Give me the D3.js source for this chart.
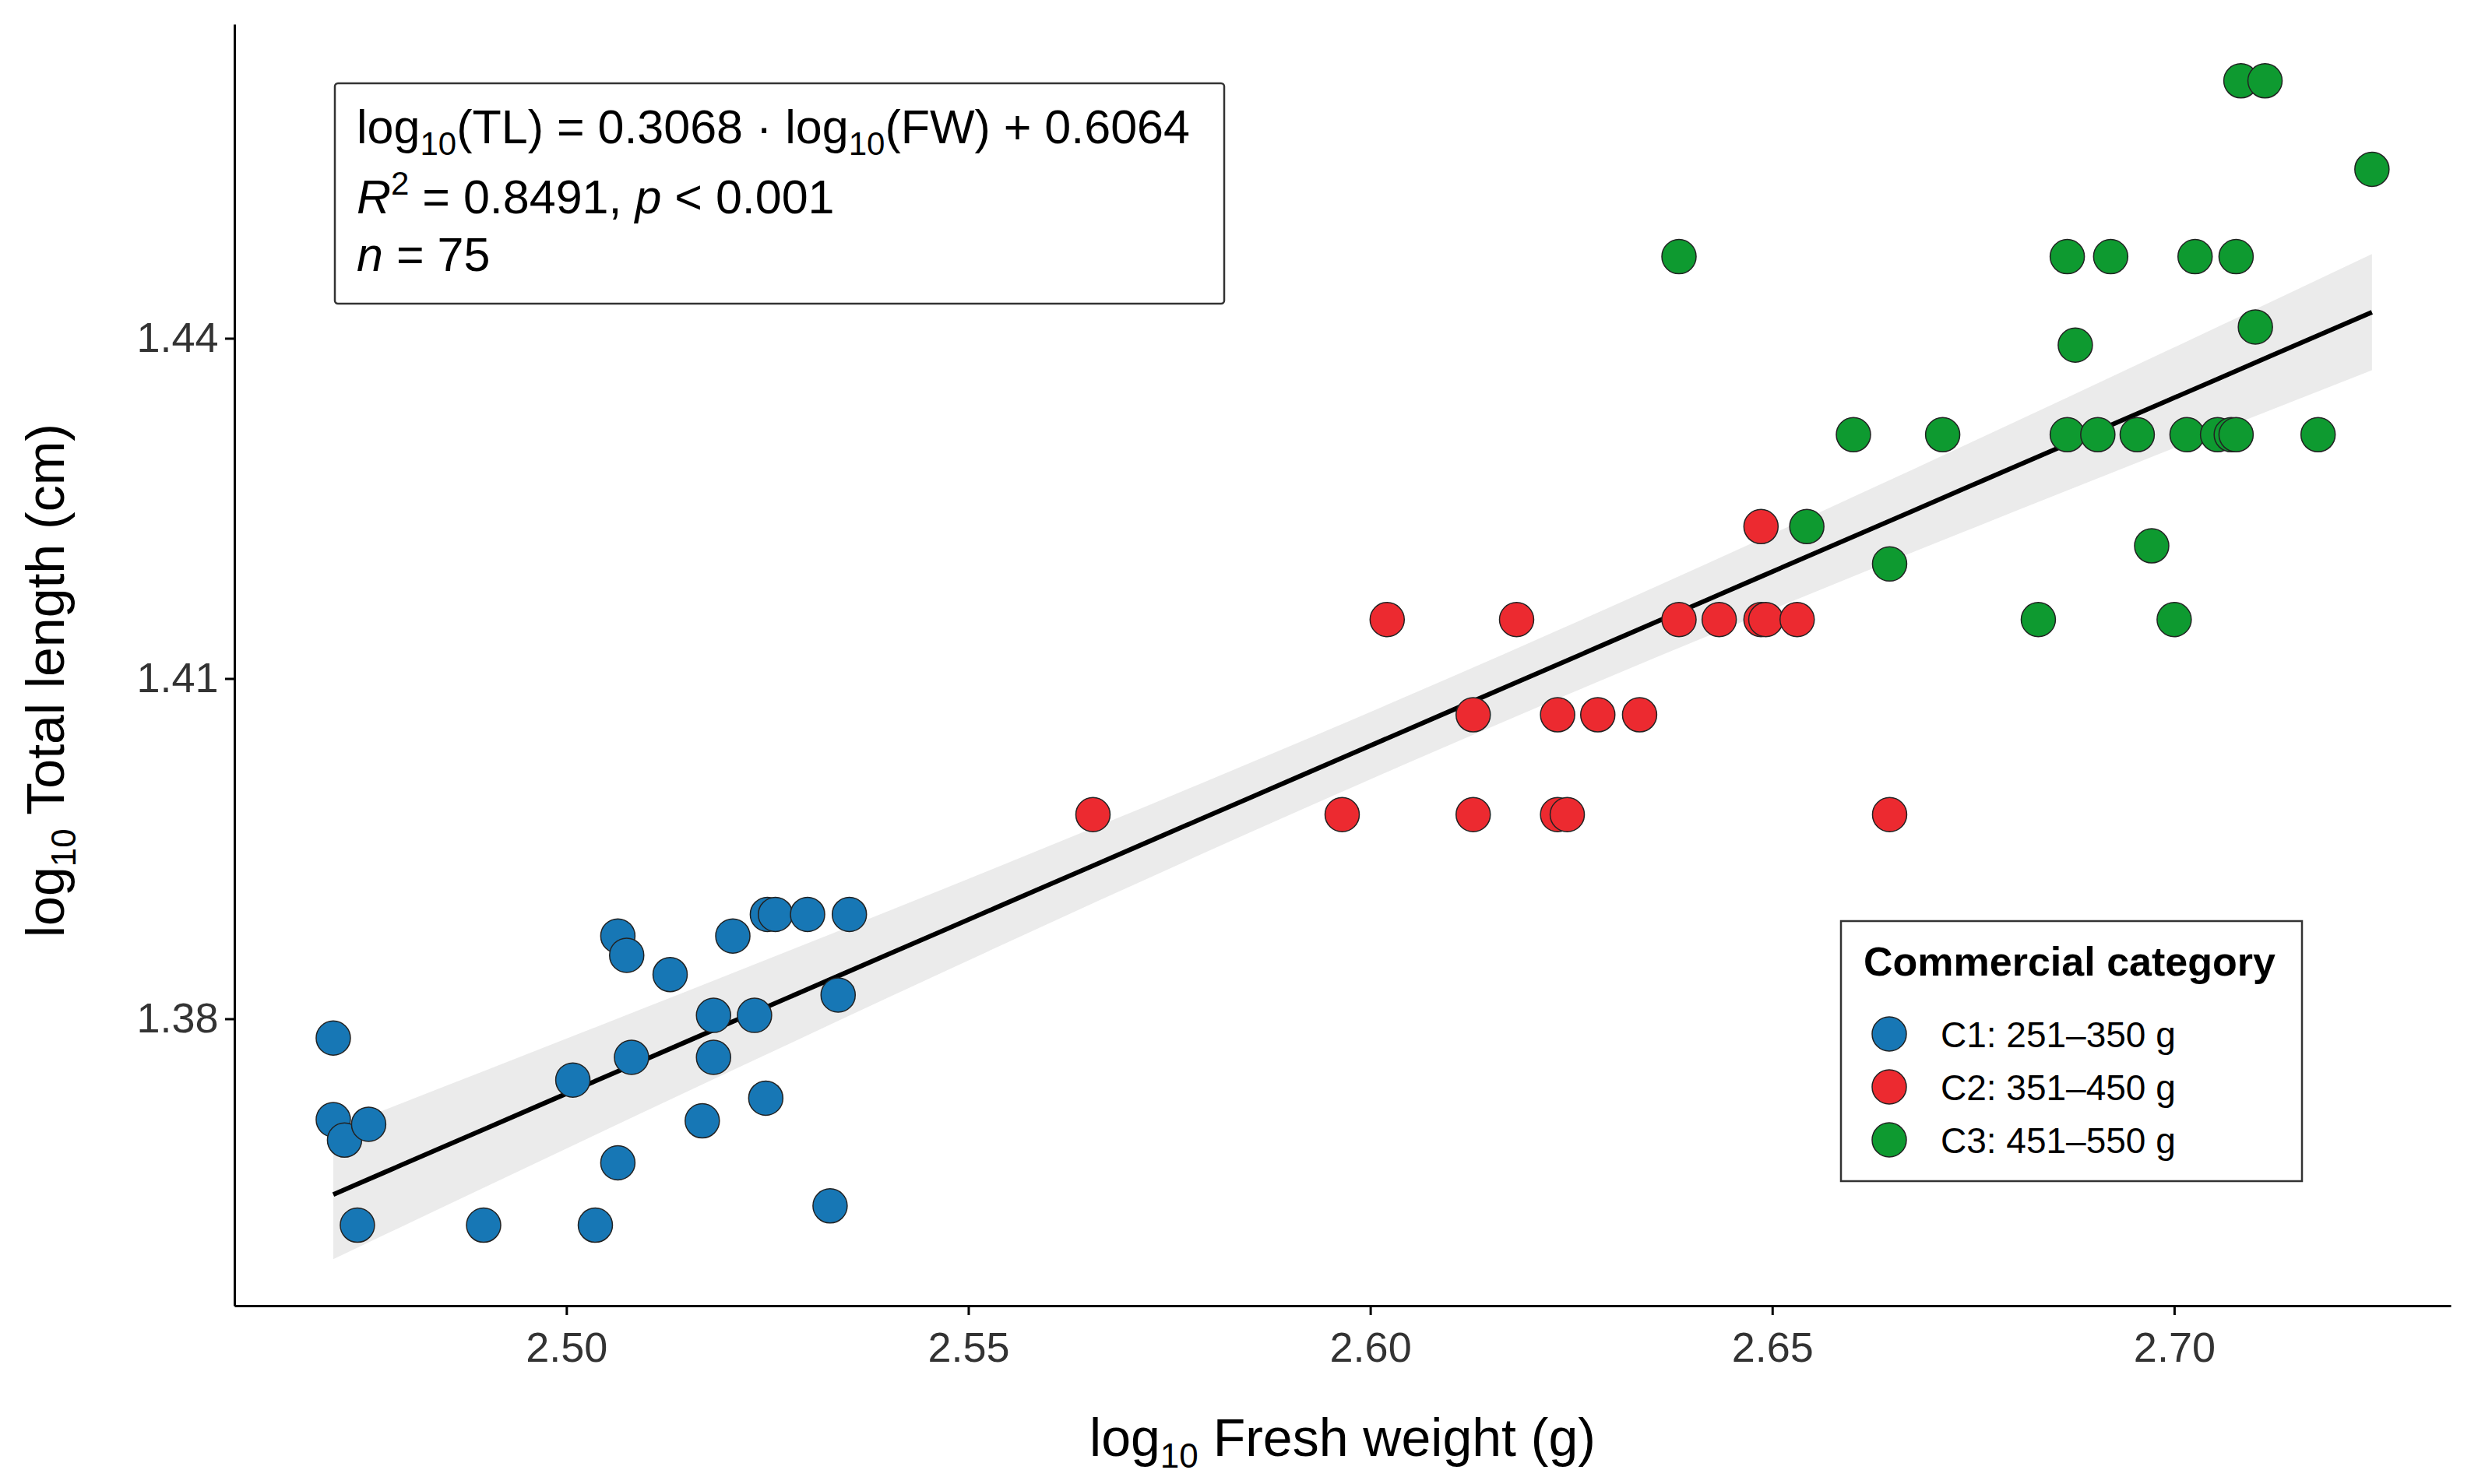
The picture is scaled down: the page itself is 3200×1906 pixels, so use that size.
<!DOCTYPE html>
<html><head><meta charset="utf-8">
<script src="https://cdn.jsdelivr.net/npm/d3@7"></script>
<style>body{margin:0;background:#fff}svg{display:block;font-family:"Liberation Sans",Arial,sans-serif}</style>
</head><body><svg id="chart" width="3200" height="1906"></svg>
<script>
(function(){
  "use strict";

  const categories = ["C1: 251–350 g", "C2: 351–450 g", "C3: 451–550 g"];
  const colors = ["#1777b5", "#ec2a30", "#0e9a30"];
  const xTicks = [2.50, 2.55, 2.60, 2.65, 2.70];
  const yTicks = [1.38, 1.41, 1.44];

  const c1x = [2.471,2.471,2.4724,2.4754,2.474,2.4897,2.5008,2.5036,2.5064,2.5064,2.5075,2.5081,2.5129,2.5169,2.5183,2.5183,2.5207,2.5234,2.5248,2.5250,2.5260,2.5300,2.5328,2.5338,2.5352];
  const c1y = [1.3783,1.3711,1.3693,1.3707,1.3618,1.3618,1.3746,1.3618,1.3673,1.3873,1.3856,1.3766,1.3839,1.3710,1.3803,1.3766,1.3873,1.3803,1.3730,1.3892,1.3892,1.3892,1.3635,1.3821,1.3892];
  const c2x = [2.5655,2.5965,2.6021,2.6128,2.6128,2.6182,2.6233,2.6233,2.6245,2.6283,2.6335,2.6384,2.6434,2.6486,2.6486,2.6492,2.6531,2.6646];
  const c2y = [1.3980,1.3980,1.4152,1.4068,1.3980,1.4152,1.4068,1.3980,1.3980,1.4068,1.4068,1.4152,1.4152,1.4234,1.4152,1.4152,1.4152,1.3980];
  const c3x = [2.6384,2.6543,2.6601,2.6646,2.6712,2.6831,2.6867,2.6867,2.6877,2.6905,2.6921,2.6954,2.6972,2.7000,2.7016,2.7026,2.7054,2.7071,2.7077,2.7077,2.7083,2.7101,2.7113,2.7179,2.7246];
  const c3y = [1.4472,1.4234,1.4315,1.4201,1.4315,1.4152,1.4472,1.4315,1.4394,1.4315,1.4472,1.4315,1.4217,1.4152,1.4315,1.4472,1.4315,1.4315,1.4472,1.4315,1.4627,1.4410,1.4627,1.4315,1.4549];

  const slope = 0.3068, intercept = 0.6064, r2 = "0.8491", nTotal = 75;

  const svg = d3.select("#chart");
  const m = {l: 301, r: 3147, t: 31, b: 1677};
  const x = d3.scaleLinear().domain([2.4587, 2.7344]).range([m.l, m.r]);
  const y = d3.scaleLinear().domain([1.3547, 1.4677]).range([m.b, m.t]);

  const pts = [];
  [[c1x,c1y],[c2x,c2y],[c3x,c3y]].forEach(function(s, i){
    s[0].forEach(function(v, j){ pts.push({x: v, y: s[1][j], g: i}); });
  });

  // confidence band from the points themselves
  const n = pts.length;
  const xm = d3.mean(pts, d => d.x);
  const sxx = d3.sum(pts, d => (d.x - xm) ** 2);
  const sres = Math.sqrt(d3.sum(pts, d => (d.y - (slope * d.x + intercept)) ** 2) / (n - 2));
  const x0 = d3.min(pts, d => d.x), x1 = d3.max(pts, d => d.x);
  const grid = d3.range(0, 41).map(k => x0 + (x1 - x0) * k / 40);
  const band = grid.map(function(v){
    const f = slope * v + intercept;
    const h = 2.3 * sres * Math.sqrt(1 / n + (v - xm) ** 2 / sxx);
    return {x: v, lo: f - h, hi: f + h, f: f};
  });

  svg.append("path").datum(band).attr("fill", "#ebebeb")
    .attr("d", d3.area().x(d => x(d.x)).y0(d => y(d.lo)).y1(d => y(d.hi)));
  svg.append("path").datum(band).attr("fill", "none").attr("stroke", "#000").attr("stroke-width", 6)
    .attr("d", d3.line().x(d => x(d.x)).y(d => y(d.f)));

  svg.append("g").selectAll("circle").data(pts).join("circle")
    .attr("cx", d => x(d.x)).attr("cy", d => y(d.y)).attr("r", 22)
    .attr("fill", d => colors[d.g]).attr("stroke", "#222").attr("stroke-width", 1.5);

  // axes
  const xa = svg.append("g").attr("transform", "translate(0," + m.b + ")")
    .call(d3.axisBottom(x).tickValues(xTicks).tickFormat(d3.format(".2f")).tickSize(12).tickSizeOuter(0));
  const ya = svg.append("g").attr("transform", "translate(" + m.l + ",0)")
    .call(d3.axisLeft(y).tickValues(yTicks).tickFormat(d3.format(".2f")).tickSize(12).tickSizeOuter(0));
  [xa, ya].forEach(function(a){
    a.select(".domain").attr("stroke-width", 3);
    a.selectAll(".tick line").attr("stroke-width", 3);
    a.selectAll("text").attr("font-size", 54).attr("fill", "#333").attr("font-family", "Liberation Sans, Arial, sans-serif");
  });
  xa.selectAll("text").attr("dy", "1.05em");
  ya.selectAll("text").attr("dx", "-0.1em");

  const xt = svg.append("text").attr("x", (m.l + m.r) / 2).attr("y", 1870)
    .attr("text-anchor", "middle").attr("font-size", 68);
  xt.append("tspan").text("log");
  xt.append("tspan").attr("font-size", 44).attr("dy", 15).text("10");
  xt.append("tspan").attr("dy", -15).text(" Fresh weight (g)");
  const yt = svg.append("text").attr("transform", "translate(82," + ((m.t + m.b) / 2 + 20) + ") rotate(-90)")
    .attr("text-anchor", "middle").attr("font-size", 68);
  yt.append("tspan").text("log");
  yt.append("tspan").attr("font-size", 44).attr("dy", 15).text("10");
  yt.append("tspan").attr("dy", -15).text(" Total length (cm)");

  // equation box
  svg.append("rect").attr("x", 430).attr("y", 107).attr("width", 1142).attr("height", 283)
    .attr("rx", 4).attr("fill", "#fff").attr("stroke", "#333").attr("stroke-width", 2.5);
  const eq = svg.append("g").attr("font-size", 61).attr("fill", "#000");
  const l1 = eq.append("text").attr("x", 458).attr("y", 184);
  l1.append("tspan").text("log");
  l1.append("tspan").attr("font-size", 42).attr("dy", 15).text("10");
  l1.append("tspan").attr("dy", -15).text("(TL) = " + slope.toFixed(4) + " · log");
  l1.append("tspan").attr("font-size", 42).attr("dy", 15).text("10");
  l1.append("tspan").attr("dy", -15).text("(FW) + " + intercept.toFixed(4));
  const l2 = eq.append("text").attr("x", 458).attr("y", 274);
  l2.append("tspan").attr("font-style", "italic").text("R");
  l2.append("tspan").attr("font-size", 42).attr("dy", -24).text("2");
  l2.append("tspan").attr("dy", 24).text(" = " + r2 + ", ");
  l2.append("tspan").attr("font-style", "italic").text("p");
  l2.append("tspan").text(" < 0.001");
  const l3 = eq.append("text").attr("x", 458).attr("y", 348);
  l3.append("tspan").attr("font-style", "italic").text("n");
  l3.append("tspan").text(" = " + nTotal);

  // legend
  const lg = svg.append("g");
  lg.append("rect").attr("x", 2364).attr("y", 1183).attr("width", 592).attr("height", 334)
    .attr("fill", "#fff").attr("stroke", "#333").attr("stroke-width", 2.5);
  lg.append("text").attr("x", 2393).attr("y", 1253).attr("font-size", 52).attr("font-weight", "bold").text("Commercial category");
  categories.forEach(function(c, i){
    const yy = 1328 + i * 68;
    lg.append("circle").attr("cx", 2426).attr("cy", yy).attr("r", 22)
      .attr("fill", colors[i]).attr("stroke", "#222").attr("stroke-width", 1.5);
    lg.append("text").attr("x", 2492).attr("y", yy + 17).attr("font-size", 46).text(c);
  });
})();
</script></body></html>
